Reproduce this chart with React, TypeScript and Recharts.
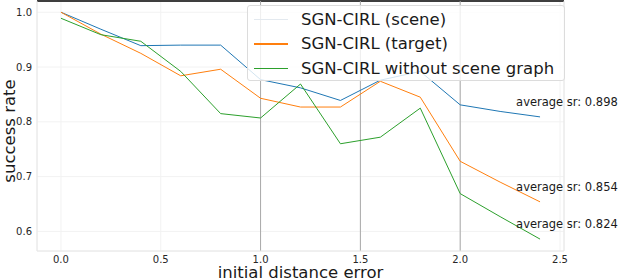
import { LineChart, Line, XAxis, YAxis, CartesianGrid, Legend, ReferenceLine, ReferenceDot } from 'recharts';

const distance = [0, 0.2, 0.4, 0.6, 0.8, 1.0, 1.2, 1.4, 1.6, 1.8, 2.0, 2.2, 2.4];
const sceneSr = [1.0, 0.969, 0.939, 0.94, 0.94, 0.877, 0.862, 0.839, 0.876, 0.892, 0.831, 0.819, 0.809];
const targetSr = [1.0, 0.96, 0.925, 0.884, 0.896, 0.843, 0.827, 0.827, 0.874, 0.845, 0.728, 0.69, 0.654];
const noGraphSr = [0.989, 0.959, 0.947, 0.892, 0.815, 0.807, 0.869, 0.76, 0.772, 0.825, 0.669, 0.627, 0.586];

const xTicks = [0, 0.5, 1.0, 1.5, 2.0, 2.5];
const yTicks = [0.6, 0.7, 0.8, 0.9, 1.0];
const markerLines = [1.0, 1.5, 2.0];

const seriesNames = ['SGN-CIRL (scene)', 'SGN-CIRL (target)', 'SGN-CIRL without scene graph'];
const avgLabels = ['average sr: 0.898', 'average sr: 0.854', 'average sr: 0.824'];
const avgX = 2.28;
const avgY = [0.836, 0.681, 0.614];

const data = distance.map((d, i) => ({
  d,
  scene: sceneSr[i],
  target: targetSr[i],
  noGraph: noGraphSr[i],
}));

const series = [
  { key: 'scene', name: seriesNames[0], color: '#1f77b4', legendColor: '#e3e9ef' },
  { key: 'target', name: seriesNames[1], color: '#ff7f0e', legendColor: '#ff7f0e' },
  { key: 'noGraph', name: seriesNames[2], color: '#2ca02c', legendColor: '#2ca02c' },
];

const font = '"DejaVu Sans", sans-serif';

const renderLegend = () => (
  <div
    style={{
      boxSizing: 'border-box',
      width: '100%',
      height: '100%',
      border: '1px solid #dcdcdc',
      borderRadius: 3,
      background: 'rgba(255,255,255,0.8)',
      paddingTop: 1,
      fontFamily: font,
      fontSize: 16.5,
      color: '#1a1a1a',
    }}
  >
    {series.map((s) => (
      <div key={s.key} style={{ display: 'flex', alignItems: 'center', height: 24.5 }}>
        <div style={{ marginLeft: 6, width: 34, height: 1.5, background: s.legendColor }} />
        <span style={{ marginLeft: 13, whiteSpace: 'nowrap' }}>{s.name}</span>
      </div>
    ))}
  </div>
);

const App = () => {
  return (
    <div style={{ position: 'absolute', left: 0, top: 0 }}>
      <LineChart width={620} height={280} data={data} margin={{ top: 1, right: 56, bottom: 0, left: 0 }}>
        <CartesianGrid stroke="#f2f2f2" />
        <XAxis
          dataKey="d"
          type="number"
          domain={[-0.12, 2.52]}
          ticks={xTicks}
          allowDataOverflow
          tickFormatter={(v: number) => v.toFixed(1)}
          height={29}
          tickSize={0}
          tickMargin={5}
          axisLine={{ stroke: '#e6e6e6' }}
          tick={{ fontSize: 10, fontFamily: font, fill: '#262626' }}
          label={{
            content: ({ viewBox }: any) => (
              <text
                x={viewBox.x + viewBox.width / 2}
                y={viewBox.y + 27}
                textAnchor="middle"
                fontSize={16.5}
                fontFamily={font}
                fill="#1a1a1a"
              >
                initial distance error
              </text>
            ),
          }}
        />
        <YAxis
          type="number"
          domain={[0.5643, 1.0205]}
          ticks={yTicks}
          allowDataOverflow
          tickFormatter={(v: number) => v.toFixed(1)}
          width={37}
          tickSize={0}
          tickMargin={5}
          axisLine={{ stroke: '#e6e6e6' }}
          tick={{ fontSize: 10, fontFamily: font, fill: '#262626' }}
          label={{
            content: ({ viewBox }: any) => {
              const cx = viewBox.x + 9;
              const cy = viewBox.y + viewBox.height / 2 + 5;
              return (
                <text
                  x={cx}
                  y={cy}
                  transform={`rotate(-90 ${cx} ${cy})`}
                  textAnchor="middle"
                  dominantBaseline="central"
                  fontSize={16.5}
                  fontFamily={font}
                  fill="#1a1a1a"
                >
                  success rate
                </text>
              );
            },
          }}
        />
        <ReferenceLine y={1.0205} stroke="#000" strokeWidth={1.5} />
        <ReferenceLine x={2.52} stroke="#e6e6e6" />
        {markerLines.map((x) => (
          <ReferenceLine key={x} x={x} stroke="#a8a8a8" strokeWidth={1} />
        ))}
        {series.map((s) => (
          <Line
            key={s.key}
            type="linear"
            dataKey={s.key}
            name={s.name}
            stroke={s.color}
            strokeWidth={1}
            dot={false}
            isAnimationActive={false}
          />
        ))}
        {avgLabels.map((t, i) => (
          <ReferenceDot
            key={t}
            x={avgX}
            y={avgY[i]}
            r={0}
            ifOverflow="visible"
            shape={(p: any) => (
              <text x={p.cx} y={p.cy} dy="0.35em" fontSize={11.5} fontFamily={font} fill="#1a1a1a">
                {t}
              </text>
            )}
          />
        ))}
        <Legend
          layout="horizontal"
          verticalAlign="middle"
          align="center"
          content={renderLegend}
          wrapperStyle={{ position: 'absolute', left: 247, top: 5, width: 318, height: 76 }}
        />
      </LineChart>
    </div>
  );
};

export default App;
